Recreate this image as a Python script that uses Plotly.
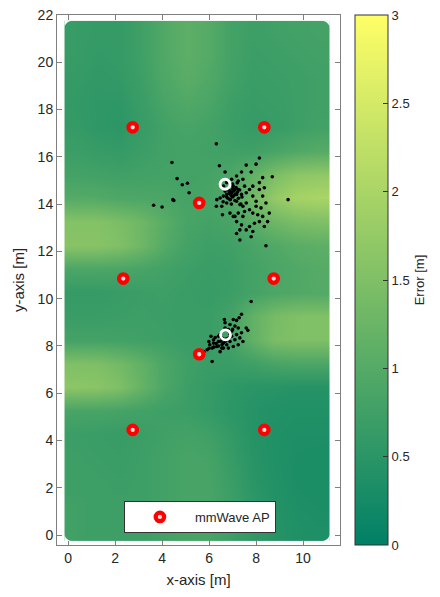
import plotly.graph_objects as go

# ---------------- data ----------------
GRID_X = [0.32, 1.26, 2.20, 3.14, 4.08, 5.02, 5.96, 6.90, 7.84, 8.78, 9.72, 10.66]
GRID_Y = [0.25, 1.25, 2.25, 3.25, 4.25, 5.25, 6.25, 7.25, 8.25, 9.25, 10.25,
          11.25, 12.25, 13.25, 14.25, 15.25, 16.25, 17.25, 18.25, 19.25, 20.25, 21.25]
# error values [m], rows from bottom (y=0.25) to top (y=21.25)
ERR = [
    [0.75, 0.72, 0.72, 0.72, 0.78, 0.85, 0.85, 0.72, 0.58, 0.45, 0.38, 0.35],
    [0.75, 0.72, 0.72, 0.72, 0.78, 0.85, 0.85, 0.72, 0.55, 0.42, 0.35, 0.33],
    [0.72, 0.72, 0.70, 0.72, 0.78, 0.85, 0.85, 0.70, 0.50, 0.40, 0.33, 0.32],
    [0.72, 0.70, 0.68, 0.72, 0.78, 0.85, 0.82, 0.65, 0.48, 0.38, 0.33, 0.32],
    [0.70, 0.68, 0.65, 0.70, 0.75, 0.80, 0.75, 0.60, 0.45, 0.38, 0.35, 0.35],
    [0.85, 0.85, 0.82, 0.78, 0.73, 0.70, 0.62, 0.52, 0.45, 0.40, 0.38, 0.38],
    [1.65, 1.62, 1.50, 1.20, 0.90, 0.72, 0.62, 0.55, 0.50, 0.48, 0.45, 0.45],
    [1.50, 1.48, 1.35, 1.15, 0.90, 0.75, 0.68, 0.68, 0.75, 0.85, 0.90, 0.90],
    [0.80, 0.80, 0.78, 0.75, 0.72, 0.68, 0.70, 0.80, 1.15, 1.45, 1.50, 1.50],
    [0.68, 0.68, 0.70, 0.72, 0.70, 0.68, 0.68, 0.80, 1.15, 1.40, 1.50, 1.50],
    [0.62, 0.62, 0.66, 0.70, 0.72, 0.68, 0.65, 0.70, 0.80, 0.90, 0.95, 0.98],
    [0.90, 0.90, 0.88, 0.85, 0.78, 0.72, 0.68, 0.70, 0.80, 0.88, 0.95, 1.00],
    [1.60, 1.60, 1.50, 1.30, 1.00, 0.80, 0.72, 0.75, 0.85, 0.95, 1.05, 1.10],
    [1.55, 1.55, 1.45, 1.30, 1.05, 0.85, 0.80, 0.85, 1.05, 1.30, 1.45, 1.50],
    [1.00, 0.98, 0.92, 0.90, 0.88, 0.82, 0.85, 0.95, 1.35, 1.75, 1.95, 2.00],
    [0.80, 0.78, 0.75, 0.78, 0.80, 0.80, 0.82, 0.90, 1.15, 1.45, 1.65, 1.70],
    [0.70, 0.65, 0.62, 0.70, 0.78, 0.80, 0.78, 0.75, 0.75, 0.85, 0.95, 1.00],
    [0.62, 0.55, 0.52, 0.65, 0.78, 0.85, 0.80, 0.70, 0.62, 0.65, 0.72, 0.78],
    [0.60, 0.55, 0.55, 0.68, 0.85, 0.95, 0.88, 0.72, 0.65, 0.68, 0.72, 0.75],
    [0.62, 0.58, 0.60, 0.72, 0.92, 1.05, 0.95, 0.78, 0.68, 0.70, 0.72, 0.75],
    [0.65, 0.60, 0.62, 0.75, 0.95, 1.10, 1.00, 0.80, 0.70, 0.72, 0.75, 0.78],
    [0.65, 0.62, 0.62, 0.75, 0.95, 1.10, 1.00, 0.80, 0.72, 0.75, 0.78, 0.80],
]

AP_X = [2.75, 8.35, 5.58, 2.35, 8.75, 5.58, 2.75, 8.35]
AP_Y = [17.25, 17.25, 14.05, 10.85, 10.85, 7.65, 4.45, 4.45]

TRUE_X = [6.68, 6.70]
TRUE_Y = [14.84, 8.47]

EST_UP_X = [4.42, 4.64, 4.86, 5.08, 5.15, 4.46, 4.50, 3.64, 4.00, 6.31, 6.44, 6.68,
            8.14, 8.00, 7.58, 7.38, 7.79, 8.28, 8.69, 8.14, 7.17, 6.96, 9.36, 8.42,
            8.28, 8.42, 8.21, 8.00, 7.86, 7.72, 7.51, 7.38, 7.24, 7.03, 6.89, 6.75,
            6.61, 6.47, 6.33, 6.31, 6.54, 6.57, 6.75, 6.89, 7.03, 7.17, 7.31, 7.44,
            7.58, 7.72, 7.86, 8.07, 8.28, 8.14, 7.93, 7.72, 7.86, 7.79, 7.58, 7.38,
            7.17, 7.03, 6.89, 7.24, 7.44, 7.31, 7.17, 7.31, 7.10, 7.51, 8.49, 8.35,
            8.56, 8.00, 7.58, 7.44, 7.24, 7.86, 8.14, 8.35, 6.75, 6.61, 6.82, 6.96,
            6.68, 7.17, 7.10, 6.94, 6.80,
            6.85, 6.95, 7.00, 7.05, 7.10, 6.90, 7.15, 7.20, 6.80, 7.00, 7.25, 6.95,
            7.10, 7.30, 6.75, 7.40, 7.00, 7.20, 6.60, 7.35]
EST_UP_Y = [15.76, 15.08, 14.82, 14.88, 14.48, 14.19, 14.15, 13.95, 13.88, 16.55, 15.62, 15.36,
            15.95, 15.69, 15.65, 15.36, 15.36, 15.12, 15.16, 14.91, 15.19, 15.05, 14.19, 12.24,
            14.34, 14.05, 13.84, 14.12, 14.34, 14.62, 14.76, 14.41, 14.62, 14.76, 14.55, 14.41,
            14.34, 14.26, 14.19, 13.91, 13.91, 13.55, 14.05, 14.19, 14.34, 14.12, 13.98, 13.91,
            14.05, 13.76, 13.62, 13.55, 13.48, 13.26, 13.19, 13.05, 12.84, 12.62, 12.91, 13.12,
            13.26, 13.48, 13.62, 13.62, 13.48, 12.91, 12.76, 12.48, 13.48, 13.69, 13.26, 13.05,
            13.62, 13.91, 14.48, 15.05, 14.98, 14.76, 14.62, 14.69, 14.91, 14.76, 14.62, 14.48,
            14.55, 14.41, 14.62, 14.36, 14.25,
            14.45, 14.50, 14.30, 14.55, 14.40, 14.20, 14.70, 14.50, 14.60, 14.65, 14.25, 14.00,
            14.15, 14.60, 14.30, 14.30, 14.85, 14.90, 14.10, 14.00]

EST_LOW_X = [7.79, 7.38, 7.28, 7.17, 7.03, 6.65, 6.89, 7.10, 7.24, 7.58, 7.65, 7.38,
             7.17, 6.96, 6.47, 6.26, 6.08, 5.99, 6.19, 6.40, 6.61, 6.75, 6.89, 7.10,
             7.31, 7.44, 7.24, 7.03, 6.82, 6.54, 6.33, 6.13, 5.92, 5.78, 6.03, 6.47,
             6.61, 6.13, 6.68, 6.82, 6.75, 6.96, 6.54, 6.40, 6.19, 6.68,
             6.50, 6.60, 6.70, 6.40, 6.30, 6.55, 6.85, 6.90, 7.00, 6.20, 6.00, 6.45]
EST_LOW_Y = [9.88, 9.34, 9.19, 9.08, 9.12, 9.12, 8.91, 8.84, 8.76, 8.76, 8.66, 8.56,
             8.48, 8.41, 8.48, 8.36, 8.41, 8.19, 8.12, 8.19, 8.12, 8.05, 8.19, 8.26,
             8.34, 8.19, 8.05, 7.98, 7.91, 7.91, 7.98, 7.91, 7.84, 7.76, 8.05, 7.76,
             7.91, 7.34, 8.76, 8.69, 8.30, 8.62, 8.34, 8.41, 8.26, 8.98,
             8.20, 8.30, 8.20, 8.00, 8.10, 8.05, 8.35, 8.50, 8.70, 7.95, 7.90, 8.45]

CB_TICKS = [0, 0.5, 1, 1.5, 2, 2.5, 3]
CB_LABELS = ["0", "0.5", "1", "1.5", "2", "2.5", "3"]
X_TICKS = [0, 2, 4, 6, 8, 10]
Y_TICKS = [0, 2, 4, 6, 8, 10, 12, 14, 16, 18, 20, 22]

# ---------------- figure ----------------
FONT = "Liberation Sans, Arial, Helvetica, sans-serif"
TXT = "#262626"

fig = go.Figure()

fig.add_trace(go.Heatmap(
    x=GRID_X, y=GRID_Y, z=ERR, zmin=0, zmax=3, zsmooth="best",
    colorscale=[[0, "rgb(0,128,102)"], [1, "rgb(255,255,102)"]],
    hoverinfo="skip", showlegend=False,
    colorbar=dict(
        x=1.053, xanchor="left", xpad=0, y=0.5, yanchor="middle", ypad=0,
        len=1, lenmode="fraction", thickness=33, thicknessmode="pixels",
        outlinecolor="#333333", outlinewidth=1,
        ticks="inside", ticklen=5, tickcolor="#333333",
        tickvals=CB_TICKS, ticktext=CB_LABELS,
        tickfont=dict(family=FONT, size=13, color=TXT),
        title=dict(text="Error [m]", side="right",
                   font=dict(family=FONT, size=13, color=TXT)),
    ),
))

fig.add_trace(go.Scatter(
    x=EST_UP_X + EST_LOW_X, y=EST_UP_Y + EST_LOW_Y, mode="markers",
    marker=dict(color="black", size=3.6), showlegend=False, hoverinfo="skip"))

fig.add_trace(go.Scatter(
    x=TRUE_X, y=TRUE_Y, mode="markers",
    marker=dict(symbol="circle-open", size=10, color="white", line=dict(width=2.8, color="white")),
    showlegend=False, hoverinfo="skip"))

fig.add_trace(go.Scatter(
    x=AP_X, y=AP_Y, mode="markers", name="mmWave AP",
    marker=dict(symbol="circle", size=8.5, color="#ffe0e0", line=dict(width=4.2, color="#ff0000")),
    hoverinfo="skip"))

# rounded corners of the room area
x0, x1 = GRID_X[0] - 0.47, GRID_X[-1] + 0.47
y0, y1 = GRID_Y[0] - 0.5, GRID_Y[-1] + 0.5
r = 0.28
k = 0.45
shapes = []
for cx, cy, sx, sy in [(x0, y0, 1, 1), (x1, y0, -1, 1), (x0, y1, 1, -1), (x1, y1, -1, -1)]:
    ax_, ay_ = cx + sx * r, cy
    bx_, by_ = cx, cy + sy * r
    c1x, c1y = ax_ - sx * r * k, ay_
    c2x, c2y = bx_, by_ - sy * r * k
    path = (f"M {cx},{cy} L {ax_},{ay_} C {c1x},{c1y} {c2x},{c2y} {bx_},{by_} Z")
    shapes.append(dict(type="path", path=path, xref="x", yref="y",
                       fillcolor="white", line=dict(width=0), layer="above"))

axis_common = dict(
    showgrid=False, zeroline=False, showline=True, linecolor="#7f7f7f", linewidth=1,
    mirror="ticks", ticks="inside", ticklen=5, tickcolor="#7f7f7f",
    tickfont=dict(family=FONT, size=14, color=TXT), automargin=False,
)

fig.update_layout(
    width=440, height=597,
    margin=dict(l=57, r=100, t=15, b=52, autoexpand=False),
    paper_bgcolor="white", plot_bgcolor="white",
    xaxis=dict(range=[-0.47, 11.57], tickvals=X_TICKS,
               title=dict(text="x-axis [m]", font=dict(family=FONT, size=15, color=TXT), standoff=9),
               **axis_common),
    yaxis=dict(range=[-0.42, 22], tickvals=Y_TICKS,
               title=dict(text="y-axis [m]", font=dict(family=FONT, size=15, color=TXT), standoff=9),
               **axis_common),
    legend=dict(x=0.505, xanchor="center", y=0.0226, yanchor="bottom",
                bgcolor="white", bordercolor="#333333", borderwidth=1,
                font=dict(family=FONT, size=13, color=TXT), itemwidth=60,
                tracegroupgap=0),
    shapes=shapes,
)

fig.write_html("out.html", config={"displayModeBar": False, "staticPlot": True})

# remove the default page margin so the figure sits at the window origin
with open("out.html", "r", encoding="utf-8") as f:
    html = f.read()
html = html.replace("<head>", "<head><style>html,body{margin:0;padding:0;overflow:hidden;}</style>", 1)
with open("out.html", "w", encoding="utf-8") as f:
    f.write(html)
